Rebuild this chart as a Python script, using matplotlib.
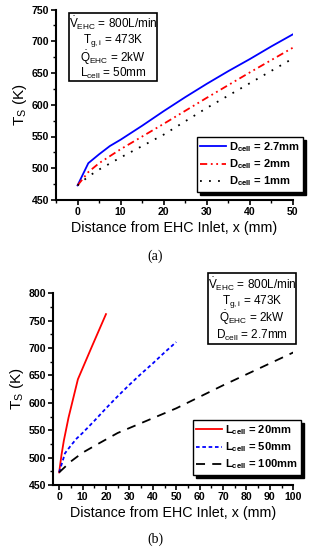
import matplotlib
matplotlib.use('Agg')
import matplotlib.pyplot as plt
from matplotlib.patches import Rectangle
from matplotlib.ticker import MultipleLocator

plt.rcParams['font.family'] = ['Liberation Sans', 'DejaVu Sans']
plt.rcParams['mathtext.fontset'] = 'custom'
plt.rcParams['mathtext.rm'] = 'Liberation Sans'
plt.rcParams['mathtext.bf'] = 'Liberation Sans:bold'
plt.rcParams['mathtext.default'] = 'regular'

# (a) surface temperature vs x for different cell diameters (L_cell = 50 mm)
x_d27 = [0, 2.5, 5, 7.5, 10, 15, 20, 25, 30, 35, 40, 45, 50]
t_d27 = [473, 508, 522, 535, 545, 567, 590, 612, 633, 653, 672, 692, 711]
x_d2 = [0, 2.5, 5, 10, 20, 30, 40, 50]
t_d2 = [473, 494, 508, 530, 570, 611, 651, 690]
x_d1 = [0, 2.5, 5, 10, 20, 30, 40, 50]
t_d1 = [473, 487, 498, 517, 553, 595, 634, 673]

# (b) surface temperature vs x for different cell lengths (D_cell = 2.7 mm)
x_l20 = [0, 1, 2, 4, 8, 14, 20]
t_l20 = [473, 505, 531, 573, 643, 703, 762]
x_l50 = x_d27
t_l50 = t_d27
x_l100 = [0, 2, 5, 10, 17, 25, 30, 40, 50, 60, 70, 80, 90, 100]
t_l100 = [473, 481, 493, 509, 526, 545, 554, 572, 590, 611, 632, 652, 672, 692]

labels_a = [r'$\mathbf{D_{cell}}$ = 2.7mm', r'$\mathbf{D_{cell}}$ = 2mm', r'$\mathbf{D_{cell}}$ = 1mm']
labels_b = [r'$\mathbf{L_{cell}}$ = 20mm', r'$\mathbf{L_{cell}}$ = 50mm', r'$\mathbf{L_{cell}}$ = 100mm']
box_a = [r'$\dot{V}_{EHC}$ = 800L/min', r'$T_{g,i}$ = 473K', r'$\dot{Q}_{EHC}$ = 2kW', r'$L_{cell}$ = 50mm']
box_b = [r'$\dot{V}_{EHC}$ = 800L/min', r'$T_{g,i}$ = 473K', r'$\dot{Q}_{EHC}$ = 2kW', r'$D_{cell}$ = 2.7mm']

W, H = 309, 550
fig = plt.figure(figsize=(W / 100, H / 100), dpi=100)


def style_axes(ax, xmaj):
    for s in ['top', 'right']:
        ax.spines[s].set_visible(False)
    for s in ['left', 'bottom']:
        ax.spines[s].set_linewidth(1.5)
    ax.xaxis.set_major_locator(MultipleLocator(xmaj))
    ax.xaxis.set_minor_locator(MultipleLocator(xmaj / 2))
    ax.yaxis.set_major_locator(MultipleLocator(50))
    ax.yaxis.set_minor_locator(MultipleLocator(25))
    ax.tick_params(which='major', direction='out', length=3.5, width=1.2, labelsize=7.6, pad=1.5)
    ax.tick_params(which='minor', direction='out', length=2, width=1)
    for lab in ax.get_xticklabels() + ax.get_yticklabels():
        lab.set_fontweight('bold')
    ax.set_xlabel('Distance from EHC Inlet, x (mm)', fontsize=10.3, labelpad=3)
    ax.set_ylabel(r'$T_S$ (K)', fontsize=11, labelpad=2)


def info_box(x0, y0, x1, y1, lines, ys):
    fig.add_artist(Rectangle((x0 / W, 1 - y1 / H), (x1 - x0) / W, (y1 - y0) / H,
                             transform=fig.transFigure, fill=False, edgecolor='black', lw=1.2))
    for t, y in zip(lines, ys):
        fig.text((x0 + x1) / 2 / W, 1 - y / H, t, ha='center', va='center', fontsize=8.5)


def add_legend(ax, x0, y0):
    leg = ax.legend(loc='upper left', bbox_to_anchor=(x0 / W, 1 - y0 / H), bbox_transform=fig.transFigure,
                    prop={'weight': 'bold', 'size': 8}, frameon=True, fancybox=False,
                    edgecolor='black', framealpha=1, shadow={'color': 'black', 'alpha': 1},
                    handlelength=2.3, handletextpad=0.3, labelspacing=0.3, borderpad=0.3,
                    borderaxespad=0)
    leg.get_frame().set_linewidth(1.0)


# panel (a)
ax1 = fig.add_axes([56 / W, 1 - 200 / H, 237 / W, 190.5 / H])
ax1.plot(x_d27, t_d27, color='#0000ff', lw=1.3, label=labels_a[0])
ax1.plot(x_d2, t_d2, color='#ff0000', lw=1.3, linestyle=(0, (4, 2, 1, 2, 1, 2)), label=labels_a[1])
ax1.plot(x_d1, t_d1, color='black', lw=1.3, linestyle=(0, (1, 4)), label=labels_a[2])
ax1.set_xlim(-5, 50)
ax1.set_ylim(450, 750)
style_axes(ax1, 10)
add_legend(ax1, 197, 137)
info_box(69, 13, 157, 81, box_a, [23.5, 41, 57.5, 73.5])
fig.text(155 / W, 1 - 256 / H, '(a)', ha='center', va='center', fontsize=10,
         family=['Liberation Serif', 'DejaVu Serif'])

# panel (b)
ax2 = fig.add_axes([53.3 / W, 1 - 485 / H, 240 / W, 191.7 / H])
ax2.plot(x_l20, t_l20, color='#ff0000', lw=1.3, label=labels_b[0])
ax2.plot(x_l50, t_l50, color='#0000ff', lw=1.3, linestyle=(0, (2, 1.5)), label=labels_b[1])
ax2.plot(x_l100, t_l100, color='black', lw=1.3, linestyle=(0, (5, 4)), label=labels_b[2])
ax2.set_xlim(-2.5, 100)
ax2.set_ylim(450, 800)
style_axes(ax2, 10)
add_legend(ax2, 193, 420)
info_box(208, 273, 296, 344, box_b, [284, 301, 318, 335])
fig.text(155 / W, 1 - 539 / H, '(b)', ha='center', va='center', fontsize=10,
         family=['Liberation Serif', 'DejaVu Serif'])

fig.savefig('out.png', dpi=100)
